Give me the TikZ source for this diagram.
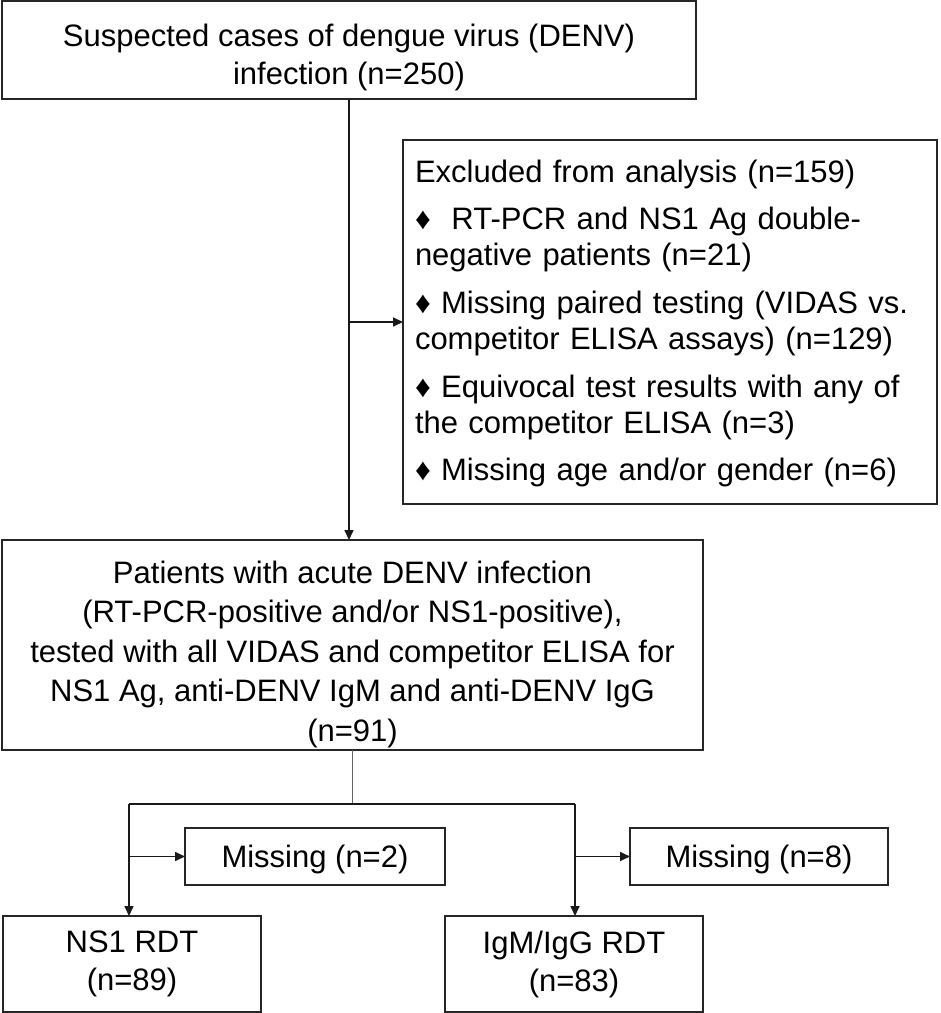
\documentclass[tikz,border=0pt]{standalone}
\usepackage{fontspec}
\setmainfont{Liberation Sans}
\usetikzlibrary{arrows.meta}
\begin{document}
\begin{tikzpicture}[x=1pt,y=-1pt,
  box/.style={draw=black!85, line width=1.6pt, inner sep=0pt, outer sep=0pt,
    font=\fontsize{31}{38}\selectfont},
  arr/.style={line width=1.6pt, black!90, -{Triangle[length=10pt,width=9pt]}},
  ln/.style={line width=1.6pt, black!90},
  thinln/.style={line width=0.9pt, black!60}]
\useasboundingbox (0,0) rectangle (941,1013);
\node[box, minimum width=694pt, minimum height=98pt, align=center] (top) at (349,50)
  {\rule{0pt}{37pt}Suspected cases of dengue virus (DENV)\\infection (n=250)};
\node[box, minimum width=534pt, minimum height=364pt, text width=510pt, align=left,
  font=\fontsize{31}{36}\selectfont] (excl) at (670,322)
  {\rule{0pt}{26pt}Excluded from analysis (n=159)\\[11pt]
   ♦\ \ RT-PCR and NS1 Ag double-\\
   negative patients (n=21)\\[12pt]
   ♦ Missing paired testing (VIDAS vs.\\
   competitor ELISA assays) (n=129)\\[12pt]
   ♦ Equivocal test results with any of\\
   the competitor ELISA (n=3)\\[11pt]
   ♦ Missing age and/or gender (n=6)};
\node[box, minimum width=701pt, minimum height=210pt, align=center,
  font=\fontsize{31}{39.5}\selectfont] (mid) at (352.5,645)
  {\rule{0pt}{41pt}Patients with acute DENV infection\\(RT-PCR-positive and/or NS1-positive),\\tested with all VIDAS and competitor ELISA for\\NS1 Ag, anti-DENV IgM and anti-DENV IgG\\(n=91)};
\node[box, minimum width=260pt, minimum height=57pt] (miss2) at (315,856.5) {\rule{0pt}{28pt}Missing (n=2)};
\node[box, minimum width=258pt, minimum height=57pt] (miss8) at (759,856.5) {\rule{0pt}{28pt}Missing (n=8)};
\node[box, minimum width=258pt, minimum height=96pt, align=center] (ns1) at (132,964) {NS1 RDT\\(n=89)};
\node[box, minimum width=258pt, minimum height=96pt, align=center] (igm) at (574,964) {IgM/IgG RDT\\(n=83)};
\coordinate (split) at (352.5,804);
\coordinate (bl) at (129,804);
\coordinate (br) at (575,804);
\draw[arr] (top.south) -- (top.south |- mid.north);
\draw[arr] (top.south |- excl.west) -- (excl.west);
\draw[thinln] (mid.south) -- (split);
\draw[ln] (bl) -- (br);
\draw[arr] (bl) -- (bl |- ns1.north);
\draw[arr] (br) -- (br |- igm.north);
\draw[arr] (bl |- miss2.west) -- (miss2.west);
\draw[arr] (br |- miss8.west) -- (miss8.west);
\end{tikzpicture}
\end{document}
